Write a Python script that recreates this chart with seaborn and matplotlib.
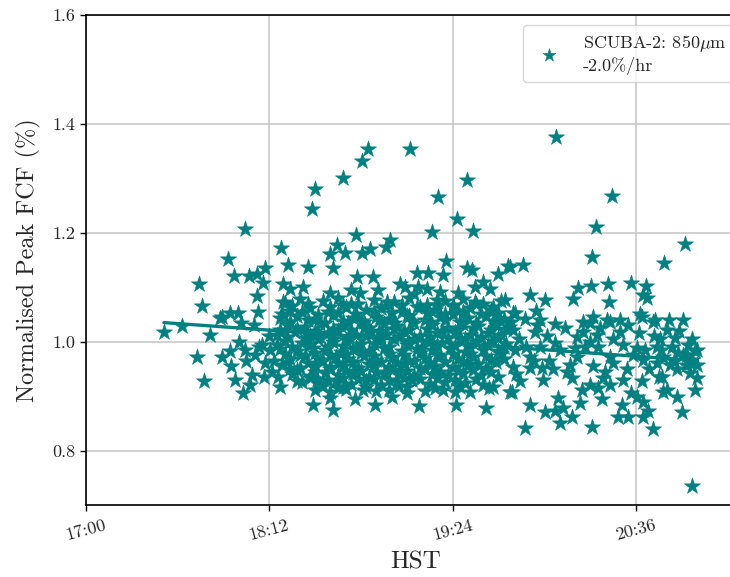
import numpy as np
import pandas as pd
import matplotlib
matplotlib.use("Agg")
import matplotlib.pyplot as plt
import seaborn as sns

# Observation times (minutes after 17:00 HST) and normalised peak FCF values
minutes_sparse = [
    30.6, 37.7, 43.6, 44.4, 45.6, 46.4, 55.8, 62.5, 58.1, 64.0, 67.2, 69.5, 70.3, 67.2, 67.6,
    53.4, 56.6, 59.7, 48.7, 52.6, 53.4, 56.6, 58.5, 61.7, 65.2, 62.5, 70.3, 75.4, 76.2,
    66.4, 69.1, 64.4, 72.3, 73.1,
    76.6, 79.3, 77.4, 80.1, 77.4, 82.9, 89.2, 97.0, 95.8, 90.7, 80.1, 85.2, 87.2, 88.8, 90.0,
    95.8, 98.6, 101.0, 108.4, 110.8, 127.3, 149.7, 138.3, 145.7, 152.0, 135.9, 106.1, 119.4,
    117.8, 101.7, 108.4, 111.6, 141.4, 140.2, 149.7, 151.6, 165.8, 161.8, 155.9, 152.8, 158.7,
    130.0, 134.3, 123.3, 125.3, 130.4, 133.9, 106.4, 112.7, 97.0, 107.6, 114.7, 118.2, 146.1,
    144.2, 152.8, 137.9, 167.7,
    105.7, 113.5, 120.2, 130.8, 140.2, 145.3, 157.1, 158.3, 166.6, 144.9, 126.1, 108.8, 101.0,
    60.0, 63.0, 66.0, 70.0, 72.0, 74.0, 68.0, 57.0, 61.0,
]
fcf_sparse = [
    1.018, 1.028, 0.971, 1.106, 1.066, 0.928, 1.152, 1.207, 1.121, 1.121, 1.125, 1.108, 1.136, 1.083, 1.055,
    1.046, 1.053, 1.053, 1.013, 1.044, 0.971, 0.982, 0.930, 0.906, 0.939, 0.985, 0.961, 0.936, 0.916,
    0.976, 0.994, 0.921, 0.985, 0.945,
    1.172, 1.141, 1.106, 1.097, 1.073, 0.927, 0.883, 0.875, 0.897, 0.930, 0.949, 1.101, 1.138, 1.244, 1.281,
    1.161, 1.178, 1.301, 1.332, 1.354, 1.354, 1.297, 1.266, 1.226, 1.204, 1.202, 1.196, 1.187,
    1.174, 1.163, 1.163, 1.171, 1.149, 1.123, 1.136, 1.132, 1.139, 1.125, 1.110, 1.101, 1.097,
    1.127, 1.127, 1.106, 1.101, 1.101, 1.097, 1.119, 1.119, 1.136, 1.090, 1.094, 1.073, 1.090,
    1.068, 1.072, 1.077, 1.053,
    0.894, 0.884, 0.899, 0.881, 0.912, 0.884, 0.879, 0.914, 0.908, 0.908, 0.917, 0.912, 0.917,
    1.000, 0.965, 1.030, 0.935, 1.010, 0.965, 0.990, 0.955, 1.035,
]

minutes_late = [
    184.6, 206.6, 200.3, 235.3, 227.0, 198.8, 171.7, 166.6, 193.3, 191.3, 198.4, 205.0, 205.4,
    214.1, 220.0, 218.8, 220.4, 168.5, 176.8, 172.4, 184.2, 195.2, 199.2, 204.7, 209.8, 217.6,
    223.5, 234.5, 172.4, 198.8, 222.7, 238.0, 234.1, 239.2, 174.4, 186.2, 190.9, 180.3, 184.2,
    187.4, 194.0, 185.4, 202.7, 209.0, 212.9, 218.8, 220.8, 218.8, 210.5, 216.4, 226.6, 232.1,
    228.2, 226.3, 232.1, 237.3, 238.0, 234.5, 229.4, 224.3, 218.8, 219.6, 218.4, 212.5, 207.0,
    203.1, 205.8, 198.0, 194.8, 190.9, 190.1, 192.9, 183.4, 179.5, 179.1, 174.4, 170.5, 167.3,
    167.7, 174.4, 168.5, 178.3, 184.2, 192.9, 198.0, 195.2, 200.7, 205.8, 209.8, 210.9, 205.8,
    216.4, 222.7, 228.2, 232.5, 237.3, 226.6, 224.3, 230.2, 218.4, 176.4, 167.7, 198.0, 192.1,
    201.1, 236.5, 239.2, 235.7, 240.0, 225.5, 231.3, 240.0, 174.4, 180.3, 164.6, 162.6, 178.3,
    170.0, 173.0, 177.0, 181.0, 182.0, 186.0, 188.0, 196.0, 199.0, 202.0, 204.0, 207.0, 211.0,
    213.0, 215.0, 217.0, 221.0, 223.0, 226.0, 229.0, 231.0, 233.0, 236.0, 238.0, 240.0, 225.0,
    214.0, 201.0, 189.0, 176.0, 169.0,
]
fcf_late = [
    1.376, 1.268, 1.211, 1.180, 1.145, 1.156, 1.141, 1.138, 1.099, 1.079, 1.103, 1.105, 1.072,
    1.108, 1.103, 1.086, 1.081, 1.053, 1.057, 1.042, 1.033, 1.037, 1.046, 1.039, 1.040, 1.050,
    1.039, 1.040, 0.842, 0.844, 0.839, 0.734, 0.870, 0.912, 0.883, 0.851, 0.861, 0.870, 0.872,
    0.879, 0.888, 0.897, 0.894, 0.862, 0.862, 0.861, 0.872, 0.890, 0.884, 0.899, 0.908, 0.899,
    0.912, 0.936, 0.949, 0.943, 0.967, 0.976, 0.958, 0.961, 0.967, 0.985, 0.927, 0.949, 0.961,
    0.934, 0.921, 0.921, 0.912, 0.934, 0.958, 0.972, 0.949, 0.930, 0.952, 0.952, 0.927, 0.908,
    0.954, 0.971, 0.985, 0.991, 0.998, 1.009, 1.035, 1.018, 1.013, 1.037, 1.017, 0.994, 0.972,
    0.989, 1.037, 1.022, 0.980, 0.961, 0.972, 0.991, 0.991, 1.046, 1.018, 1.022, 1.000, 0.989,
    0.991, 0.994, 0.982, 0.958, 0.934, 1.004, 1.007, 0.958, 1.086, 1.077, 1.077, 1.040, 1.040,
    1.005, 0.990, 1.030, 1.010, 0.965, 0.985, 1.025, 0.990, 0.955, 1.025, 0.945, 1.005, 0.930,
    1.030, 0.975, 1.015, 0.950, 1.010, 0.985, 1.040, 0.965, 1.020, 0.975, 1.005, 0.985, 0.935,
    0.905, 0.915, 0.945, 0.965, 0.940,
]

minutes_core = [
    78, 84, 93, 99, 104, 113, 121, 127, 134, 141, 148, 156, 163,
    80, 88, 95, 102, 110, 116, 124, 131, 137, 146, 151, 159,
    76, 83, 90, 97, 105, 108, 114, 119, 126, 133, 139, 144, 150, 157, 164,
    79, 86, 92, 100, 103, 111, 117, 122, 129, 136, 142, 148, 154, 161, 166,
    75, 82, 88, 95, 99, 106, 112, 118, 125, 131, 138, 145, 151, 158, 163,
    78, 85, 91, 97, 102, 108, 115, 121, 127, 134, 140, 147, 153, 160, 165,
    76, 83, 89, 94, 100, 105, 111, 117, 124, 130, 136, 143, 149, 156, 162,
    80, 86, 92, 98, 103, 109, 114, 120, 127, 133, 139, 146, 152, 159, 164,
    77, 84, 90, 96, 101, 107, 113, 119, 125, 131, 137, 144, 150, 157,
    81, 88, 94, 99, 105, 111, 117, 123, 129, 136, 142, 148, 155, 162,
    85, 92, 98, 104, 110, 116, 122, 128, 135, 141, 149, 156,
    90, 96, 102, 114, 119, 126, 133, 151,
    96, 104, 129, 139,
    81, 87, 96, 101, 107, 118, 124, 130, 138, 144, 153, 160,
    77, 85, 91, 99, 106, 113, 120, 127, 134, 141, 148, 155, 162,
    80, 87, 94, 101, 109, 115, 121, 128, 135, 141, 147, 153, 160, 167,
    76, 83, 90, 97, 104, 109, 115, 121, 127, 134, 140, 146, 152, 159, 165,
    79, 86, 92, 97, 103, 110, 116, 123, 129, 135, 142, 149, 155, 162,
    75, 81, 88, 95, 101, 106, 113, 119, 126, 132, 138, 145, 151, 158, 164,
    78, 84, 90, 96, 102, 108, 113, 119, 125, 131, 138, 144, 151, 157, 163,
    79, 87, 93, 99, 105, 111, 116, 122, 129, 135, 141, 148, 154, 161,
    83, 90, 96, 102, 108, 114, 120, 126, 133, 139, 146, 152, 159,
    88, 95, 101, 107, 113, 119, 125, 131, 138, 145, 153,
    93, 99, 110, 123, 137, 147, 160,
]
fcf_core = [
    1.071, 1.078, 1.074, 1.081, 1.069, 1.076, 1.072, 1.080, 1.068, 1.075, 1.079, 1.070, 1.074,
    1.057, 1.062, 1.055, 1.064, 1.058, 1.061, 1.054, 1.063, 1.059, 1.056, 1.062, 1.058,
    1.043, 1.047, 1.041, 1.049, 1.044, 1.038, 1.046, 1.042, 1.048, 1.040, 1.045, 1.050, 1.043, 1.047, 1.041,
    1.031, 1.027, 1.033, 1.029, 1.034, 1.026, 1.032, 1.028, 1.035, 1.030, 1.026, 1.033, 1.029, 1.031, 1.027,
    1.013, 1.018, 1.011, 1.016, 1.020, 1.012, 1.017, 1.014, 1.019, 1.010, 1.015, 1.018, 1.012, 1.016, 1.013,
    1.002, 0.997, 1.004, 0.999, 1.003, 0.996, 1.001, 1.005, 0.998, 1.002, 0.997, 1.004, 0.999, 1.001, 0.996,
    0.987, 0.982, 0.988, 0.984, 0.981, 0.986, 0.983, 0.989, 0.982, 0.986, 0.984, 0.988, 0.981, 0.985, 0.983,
    0.968, 0.973, 0.966, 0.971, 0.969, 0.974, 0.967, 0.972, 0.965, 0.970, 0.973, 0.968, 0.971, 0.966, 0.969,
    0.957, 0.952, 0.958, 0.953, 0.956, 0.951, 0.957, 0.954, 0.959, 0.952, 0.956, 0.953, 0.958, 0.951,
    0.941, 0.937, 0.943, 0.938, 0.942, 0.936, 0.940, 0.944, 0.937, 0.941, 0.938, 0.943, 0.939, 0.936,
    0.926, 0.922, 0.928, 0.923, 0.927, 0.921, 0.925, 0.929, 0.922, 0.926, 0.924, 0.921,
    0.911, 0.907, 0.913, 0.909, 0.912, 0.906, 0.910, 0.908,
    1.089, 1.094, 1.088, 1.092,
    1.066, 1.069, 1.064, 1.067, 1.070, 1.065, 1.068, 1.063, 1.067, 1.066, 1.069, 1.064,
    1.051, 1.054, 1.049, 1.053, 1.050, 1.055, 1.052, 1.048, 1.053, 1.051, 1.054, 1.050, 1.052,
    1.037, 1.039, 1.035, 1.038, 1.036, 1.040, 1.034, 1.038, 1.036, 1.039, 1.037, 1.035, 1.038, 1.036,
    1.022, 1.024, 1.020, 1.023, 1.021, 1.025, 1.019, 1.023, 1.021, 1.024, 1.020, 1.022, 1.025, 1.021, 1.023,
    1.008, 1.006, 1.009, 1.005, 1.007, 1.010, 1.006, 1.008, 1.004, 1.009, 1.007, 1.005, 1.008, 1.006,
    0.993, 0.990, 0.994, 0.991, 0.992, 0.989, 0.995, 0.991, 0.993, 0.990, 0.994, 0.992, 0.989, 0.993, 0.991,
    0.978, 0.975, 0.979, 0.976, 0.977, 0.980, 0.974, 0.978, 0.976, 0.979, 0.975, 0.977, 0.978, 0.974, 0.977,
    0.963, 0.960, 0.964, 0.961, 0.962, 0.959, 0.963, 0.961, 0.964, 0.960, 0.962, 0.963, 0.959, 0.962,
    0.948, 0.945, 0.949, 0.946, 0.947, 0.944, 0.948, 0.946, 0.949, 0.945, 0.947, 0.948, 0.945,
    0.933, 0.930, 0.934, 0.931, 0.932, 0.929, 0.933, 0.931, 0.934, 0.930, 0.932,
    0.918, 0.915, 0.916, 0.919, 0.915, 0.917, 0.916,
]

# Linear drift quoted in the legend
drift_pct_per_hr = -2.0
fit_start_value = 1.035

tick_labels = ["17:00", "18:12", "19:24", "20:36"]
series_label = "SCUBA-2: 850$\\mu$m\n" + f"{drift_pct_per_hr:.1f}%/hr"

sns.set_style("white")
plt.rcParams["font.family"] = "serif"
plt.rcParams["font.serif"] = ["cmr10", "DejaVu Serif"]
plt.rcParams["mathtext.fontset"] = "cm"
plt.rcParams["axes.unicode_minus"] = False
plt.rcParams["axes.formatter.use_mathtext"] = True

base = pd.Timestamp("2019-01-01 17:00")
minutes = np.array(minutes_sparse + minutes_core + minutes_late)
fcf = np.array(fcf_sparse + fcf_core + fcf_late)
df = pd.DataFrame({"time": base + pd.to_timedelta(minutes, unit="m"), "fcf": fcf})

fig = plt.figure(figsize=(7.30, 5.77), dpi=100)
ax = fig.add_axes([0.1178, 0.1248, 0.9027, 0.8492])

color = "teal"
sns.scatterplot(data=df, x="time", y="fcf", marker="*", s=150, color=color,
                edgecolor=color, linewidth=0.4, label=series_label, ax=ax, zorder=3)

# Drift line over the observed time span
t_line = np.array([minutes.min(), minutes.max()])
fit_line = fit_start_value + drift_pct_per_hr / 100.0 * (t_line - t_line[0]) / 60.0
sns.lineplot(x=base + pd.to_timedelta(t_line, unit="m"), y=fit_line, color=color,
             linewidth=2.4, ax=ax, zorder=2, legend=False)

ax.set_xlim(base, base + pd.Timedelta(minutes=258.8))
ax.set_ylim(0.7, 1.6)
tick_times = [base + pd.Timedelta(hours=int(s[:2]) - 17, minutes=int(s[3:])) for s in tick_labels]
ax.set_xticks(tick_times)
ax.set_xticklabels(tick_labels, rotation=15, fontsize=13)
ax.set_yticks([0.8, 1.0, 1.2, 1.4, 1.6])
ax.set_yticklabels(["0.8", "1.0", "1.2", "1.4", "1.6"], fontsize=13)
ax.grid(True, color="#c8c8c8", linewidth=1.2)
ax.set_axisbelow(True)
ax.tick_params(axis="x", direction="out", length=4, width=1, color="black",
               bottom=True, pad=5)
ax.tick_params(axis="y", direction="out", length=4, width=1, color="black", left=True)
for side in ["left", "bottom", "top", "right"]:
    ax.spines[side].set_color("black")
    ax.spines[side].set_linewidth(1.2)

ax.set_xlabel("HST", fontsize=18, labelpad=6)
ax.set_ylabel("Normalised Peak FCF (%)", fontsize=17.5, labelpad=8)

ax.legend(loc="upper right", fontsize=13, frameon=True, handletextpad=0.9,
          borderpad=0.4, markerscale=0.8, bbox_to_anchor=(0.997, 0.997))

fig.savefig("out.png", dpi=100)
